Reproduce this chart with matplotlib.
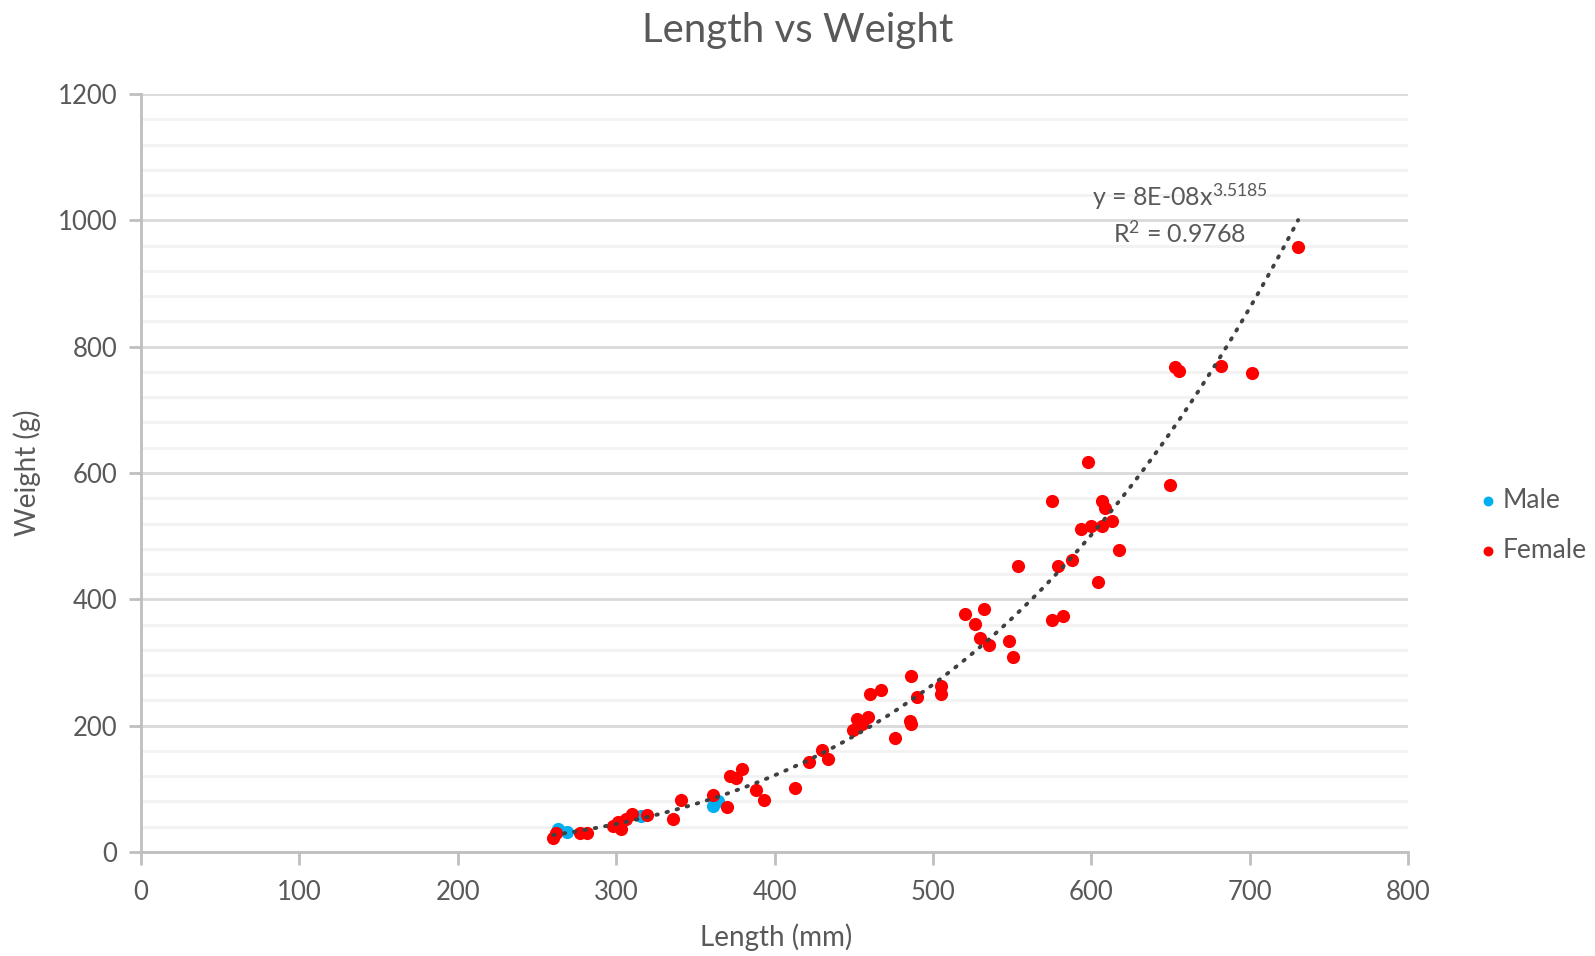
import matplotlib.pyplot as plt
import numpy as np

plt.rcParams["font.family"] = ["Lato", "DejaVu Sans"]
plt.rcParams["mathtext.fontset"] = "custom"
plt.rcParams["mathtext.rm"] = "Lato"
plt.rcParams["mathtext.it"] = "Lato"
plt.rcParams["mathtext.bf"] = "Lato"

# length (mm) / weight (g)
male_length = [263.5, 268.7, 316.0, 361.0, 364.5]
male_weight = [36, 32, 57, 73, 80]

female_length = [
    260.3, 262.0, 277.0, 281.4, 297.8, 301.0, 302.8, 306.2, 309.8, 319.6,
    336.0, 341.0, 361.0, 369.8, 371.8, 375.6, 379.2, 388.3, 393.5, 413.0,
    422.0, 429.7, 434.0, 449.7, 451.8, 455.0, 459.2, 460.2, 467.2, 476.0,
    486.0, 485.5, 486.0, 489.7, 504.8, 504.8, 520.4, 526.5, 529.9, 532.4,
    535.6, 548.2, 550.3, 554.0, 575.0, 575.0, 578.7, 582.0, 587.8, 593.4,
    597.7, 599.5, 604.4, 606.5, 608.6, 606.5, 612.8, 617.6, 649.6, 652.8,
    655.3, 682.2, 701.2, 730.6,
]
female_weight = [
    22, 30, 30, 30, 41, 48, 36, 53, 60, 59,
    52, 82, 90, 72, 120, 117, 131, 98, 83, 101,
    143, 161, 147, 193, 210, 203, 213, 250, 257, 180,
    279, 207, 202, 246, 262, 250, 376, 361, 338, 385,
    328, 334, 309, 453, 556, 368, 453, 374, 462, 511,
    618, 516, 428, 556, 544, 516, 524, 478, 581, 767,
    762, 769, 758, 958,
]

TEXT = "#595959"
MALE = "#00B0F0"
FEMALE = "#FF0000"

fig = plt.figure(figsize=(15.95, 9.56), dpi=100)
ax = fig.add_axes([0.0884, 0.1088, 0.7944, 0.7929])

ax.scatter(male_length, male_weight, s=90, color=MALE, label="Male", zorder=3, linewidths=0)
ax.scatter(female_length, female_weight, s=90, color=FEMALE, label="Female", zorder=3, linewidths=0)

# power trendline fitted on all points (log-log least squares, like Excel)
all_x = np.array(male_length + female_length)
all_y = np.array(male_weight + female_weight, dtype=float)
b, ln_a = np.polyfit(np.log(all_x), np.log(all_y), 1)
xs = np.linspace(all_x.min(), all_x.max(), 300)
ax.plot(xs, np.exp(ln_a) * xs ** b, linestyle=(0, (0.4, 2.3)), color="#404040",
        linewidth=2.8, dash_capstyle="round", zorder=4)

ax.text(656, 1037, "y = 8E-08x$^{3.5185}$", ha="center", va="center", fontsize=18, color=TEXT)
ax.text(656, 979, "R$^{2}$ = 0.9768", ha="center", va="center", fontsize=18, color=TEXT)

ax.set_xlim(0, 800)
ax.set_ylim(0, 1200)
ax.set_xticks(np.arange(0, 801, 100))
ax.set_yticks(np.arange(0, 1201, 200))
ax.set_yticks(np.arange(0, 1201, 40), minor=True)
ax.grid(axis="y", which="major", color="#D9D9D9", linewidth=2)
ax.grid(axis="y", which="minor", color="#F2F2F2", linewidth=2)
ax.set_axisbelow(True)
ax.tick_params(axis="both", which="major", colors="#BFBFBF", labelcolor=TEXT,
               labelsize=18.5, length=9, width=2)
ax.tick_params(axis="x", which="major", pad=11)
ax.tick_params(axis="y", which="major", pad=8)
ax.tick_params(axis="y", which="minor", length=0)
for side in ("top", "right"):
    ax.spines[side].set_visible(False)
for side in ("left", "bottom"):
    ax.spines[side].set_color("#BFBFBF")
    ax.spines[side].set_linewidth(2)

ax.set_title("Length vs Weight", fontsize=29, color=TEXT, x=0.518, y=1.073, va="center")
ax.set_xlabel("Length (mm)", fontsize=20, color=TEXT, va="center")
ax.xaxis.set_label_coords(0.501, -0.113)
ax.set_ylabel("Weight (g)", fontsize=20, color=TEXT, va="center")
ax.yaxis.set_label_coords(-0.0896, 0.5)

leg = ax.legend(loc="center left", bbox_to_anchor=(1.034, 0.431), frameon=False,
                fontsize=19, handletextpad=-0.45, labelspacing=0.95, markerscale=0.75,
                borderaxespad=0)
for t in leg.get_texts():
    t.set_color(TEXT)

fig.savefig("out.png", dpi=100)
